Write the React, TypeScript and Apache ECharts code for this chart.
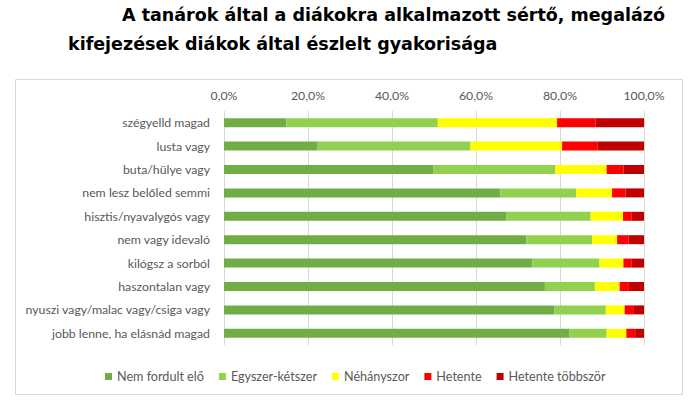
import React, { useEffect, useRef } from "react";
import * as echarts from "echarts";

const categories = [
  "szégyelld magad",
  "lusta vagy",
  "buta/hülye vagy",
  "nem lesz belőled semmi",
  "hisztis/nyavalygós vagy",
  "nem vagy idevaló",
  "kilógsz a sorból",
  "haszontalan vagy",
  "nyuszi vagy/malac vagy/csiga vagy",
  "jobb lenne, ha elásnád magad",
];

const seriesNames = ["Nem fordult elő", "Egyszer-kétszer", "Néhányszor", "Hetente", "Hetente többször"];

const nemFordultElo = [14.8, 22.3, 49.9, 65.8, 67.2, 72.0, 73.4, 76.4, 78.7, 82.3];
const egyszerKetszer = [36.1, 36.4, 29.0, 18.1, 20.1, 15.7, 16.0, 11.9, 12.2, 8.8];
const nehanyszor = [28.4, 21.8, 12.2, 8.5, 7.7, 5.9, 5.7, 5.9, 4.5, 4.7];
const hetente = [9.2, 8.5, 4.0, 3.2, 2.1, 2.7, 2.0, 2.2, 2.2, 2.1];
const hetenteTobbszor = [11.5, 11.0, 4.9, 4.4, 2.9, 3.7, 2.9, 3.6, 2.4, 2.1];

const colors = ["#70ad47", "#92d050", "#ffff00", "#ff0000", "#c00000"];

const titleLine1 = "A tanárok által a diákokra alkalmazott sértő, megalázó";
const titleLine2 = "kifejezések diákok által észlelt gyakorisága";

export default function App() {
  const ref = useRef<HTMLDivElement>(null);
  useEffect(() => {
    if (!ref.current) return;
    const chart = echarts.init(ref.current, undefined, { renderer: "svg" });
    const values = [nemFordultElo, egyszerKetszer, nehanyszor, hetente, hetenteTobbszor];
    chart.setOption({
      animation: false,
      backgroundColor: "#ffffff",
      graphic: [
        {
          type: "rect",
          shape: { x: 15.5, y: 79.5, width: 667, height: 315 },
          style: { fill: "none", stroke: "#d9d9d9", lineWidth: 1 },
          silent: true,
        },
        {
          type: "text",
          left: 122,
          top: 6,
          style: {
            text: titleLine1,
            font: "bold 17.5px 'DejaVu Sans'",
            fill: "#000000",
          },
        },
        {
          type: "text",
          left: 68,
          top: 35,
          style: {
            text: titleLine2,
            font: "bold 17.5px 'DejaVu Sans'",
            fill: "#000000",
          },
        },
      ],
      legend: {
        left: 100,
        top: 365,
        itemWidth: 7,
        itemHeight: 7,
        itemGap: 15,
        icon: "rect",
        textStyle: { fontFamily: "Lato", fontSize: 12.6, color: "#595959" },
        data: seriesNames,
      },
      grid: { left: 224, right: 48, top: 111, bottom: 55, containLabel: false },
      xAxis: {
        type: "value",
        position: "top",
        min: 0,
        max: 100,
        interval: 20,
        axisLine: { show: false },
        axisTick: { show: false },
        splitLine: { show: true, lineStyle: { color: "#d9d9d9", width: 1 } },
        axisLabel: {
          margin: 10,
          fontFamily: "Lato",
          fontSize: 12.3,
          color: "#595959",
          formatter: (v: number) => v.toFixed(1).replace(".", ",") + "%",
        },
      },
      yAxis: {
        type: "category",
        data: categories,
        inverse: true,
        axisLine: { show: false },
        axisTick: { show: false },
        axisLabel: { margin: 14, fontFamily: "Lato", fontSize: 12.3, color: "#595959" },
      },
      series: seriesNames.map((name, i) => ({
        name,
        type: "bar",
        stack: "total",
        barWidth: 9,
        itemStyle: { color: colors[i] },
        data: values[i],
      })),
    });
    return () => chart.dispose();
  }, []);
  return (
    <div
      ref={ref}
      style={{ position: "absolute", left: 0, top: 0, width: 692, height: 400 }}
    />
  );
}
